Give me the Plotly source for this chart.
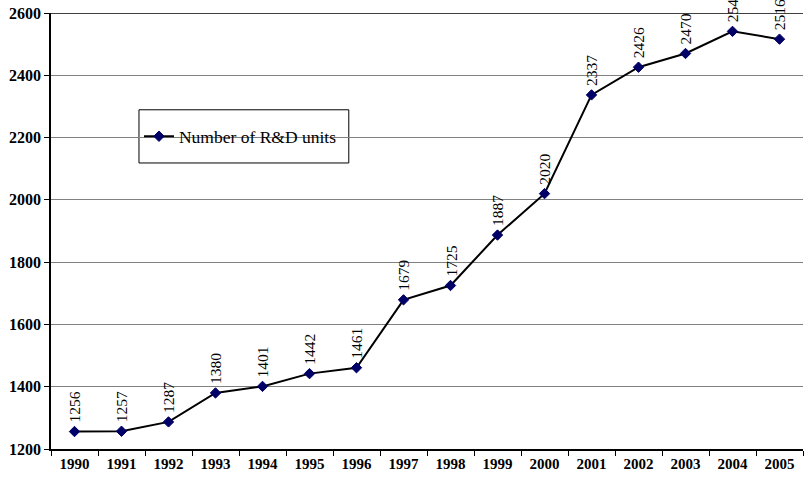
import plotly.graph_objects as go

years = [str(y) for y in range(1990, 2006)]
units = [1256, 1257, 1287, 1380, 1401, 1442, 1461, 1679, 1725, 1887,
         2020, 2337, 2426, 2470, 2541, 2516]
y_ticks = [1200, 1400, 1600, 1800, 2000, 2200, 2400, 2600]

serif = "Liberation Serif, Times New Roman, serif"

fig = go.Figure()
fig.add_trace(go.Scatter(
    x=years, y=units, mode="lines+markers",
    name="Number of R&D units",
    line=dict(color="black", width=2),
    marker=dict(symbol="diamond", size=8, color="#000066",
                line=dict(color="#000066", width=1)),
    cliponaxis=False,
))

# vertical value labels above each point (x given as category index)
for i, v in enumerate(units):
    fig.add_annotation(x=i, y=v, xref="x", yref="y", text=str(v),
                       textangle=-90, showarrow=False,
                       xanchor="center", yanchor="bottom", yshift=7,
                       font=dict(family=serif, size=15.5, color="black"))

# dark top border of the plotting area
fig.add_shape(type="line", xref="paper", yref="y", x0=0, x1=1,
              y0=2600, y1=2600, line=dict(color="black", width=1.5))

# legend frame
fig.add_shape(type="rect", xref="paper", yref="paper",
              x0=0.117, x1=0.396, y0=0.656, y1=0.778,
              line=dict(color="black", width=1), fillcolor="white",
              layer="below")

fig.update_layout(
    width=805, height=479,
    margin=dict(l=51, r=2, t=13, b=30),
    paper_bgcolor="white", plot_bgcolor="white",
    showlegend=True,
    legend=dict(x=0.117, y=0.717, xanchor="left", yanchor="middle",
                bgcolor="rgba(0,0,0,0)", borderwidth=0,
                font=dict(family=serif, size=17.5, color="black"),
                itemwidth=30, tracegroupgap=0),
    xaxis=dict(type="category", range=[-0.5, 15.5],
               showline=True, linecolor="black", linewidth=1.5,
               ticks="outside", tickson="boundaries", ticklen=5,
               tickcolor="black", showgrid=False,
               tickfont=dict(family=serif, size=15, color="black",
                             weight="bold")),
    yaxis=dict(range=[1200, 2600], tickvals=y_ticks,
               showline=True, linecolor="black", linewidth=1.5,
               ticks="outside", ticklen=5, tickcolor="black",
               showgrid=True, gridcolor="#808080", gridwidth=1,
               zeroline=False,
               tickfont=dict(family=serif, size=16, color="black",
                             weight="bold")),
)

fig.write_html("out.html")
